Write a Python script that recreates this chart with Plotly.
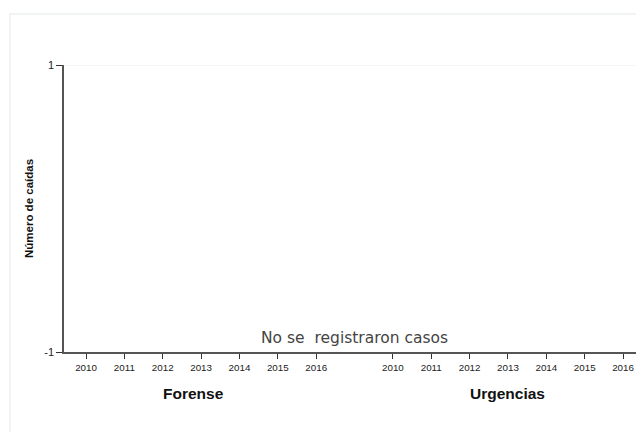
import plotly.graph_objects as go

years = ["2010", "2011", "2012", "2013", "2014", "2015", "2016"]
groups = ["Forense", "Urgencias"]
forense_values = [None] * len(years)
urgencias_values = [None] * len(years)
y_ticks = [-1, 1]
message = "No se  registraron casos"
y_title = "Número de caídas"

gap = len(years) + 1
fig = go.Figure()
tickvals, ticktext = [], []
for g, (name, vals) in enumerate(zip(groups, [forense_values, urgencias_values])):
    xs = [i + g * gap for i in range(len(years))]
    tickvals += xs
    ticktext += years
    fig.add_trace(go.Scatter(x=xs, y=vals, mode="lines", name=name,
                             line=dict(color="#1f4e79"), showlegend=False))

centers = [sum(range(len(years))) / len(years) + g * gap for g in range(len(groups))]
for name, c in zip(groups, centers):
    fig.add_annotation(x=c - (0.2 if name == "Forense" else 0), y=-1, xref="x", yref="y",
                       text=f"<b>{name}</b>", showarrow=False, yshift=-41,
                       font=dict(family="Liberation Sans, Arial", size=15.5, color="#111"))

fig.add_annotation(x=(tickvals[0] + tickvals[-1]) / 2, y=-1, xref="x", yref="y",
                   text=message, showarrow=False, yanchor="bottom", yshift=3,
                   font=dict(family="DejaVu Sans", size=15.5, color="#444"))

# light gridline at top tick
fig.add_shape(type="line", xref="paper", yref="y", x0=0, x1=1, y0=y_ticks[-1], y1=y_ticks[-1],
              line=dict(color="#e6eded", width=1.2), layer="below")

fig.add_shape(type="rect", xref="paper", yref="paper", x0=-0.0918, x1=1.2, y0=-0.5, y1=1.178,
              line=dict(color="#e9eeee", width=1.2), fillcolor="rgba(0,0,0,0)", layer="below")

fig.update_layout(
    width=644, height=432,
    margin=dict(l=56, r=0, t=57, b=88),
    paper_bgcolor="white", plot_bgcolor="white",
    font=dict(family="Liberation Sans, Arial", color="#222"),
    xaxis=dict(range=[-0.574, 14.755], tickvals=tickvals, ticktext=ticktext,
               showline=True, linecolor="#555", linewidth=1.5,
               ticks="outside", ticklen=5, tickcolor="#333", tickwidth=1,
               tickfont=dict(size=9.8, color="#222"), showgrid=False, zeroline=False),
    yaxis=dict(range=[-1, 1], tickvals=y_ticks, ticktext=[str(v) for v in y_ticks],
               showline=True, linecolor="#555", linewidth=1.5,
               ticks="outside", ticklen=6, tickcolor="#333", tickwidth=1,
               tickfont=dict(size=11, color="#222"),
               showgrid=True, gridcolor="#e6eded", gridwidth=1, zeroline=False,
               title=dict(text=f"<b>{y_title}</b>", font=dict(size=11.5, color="#111"), standoff=8)),
)

fig.write_html("out.html")
